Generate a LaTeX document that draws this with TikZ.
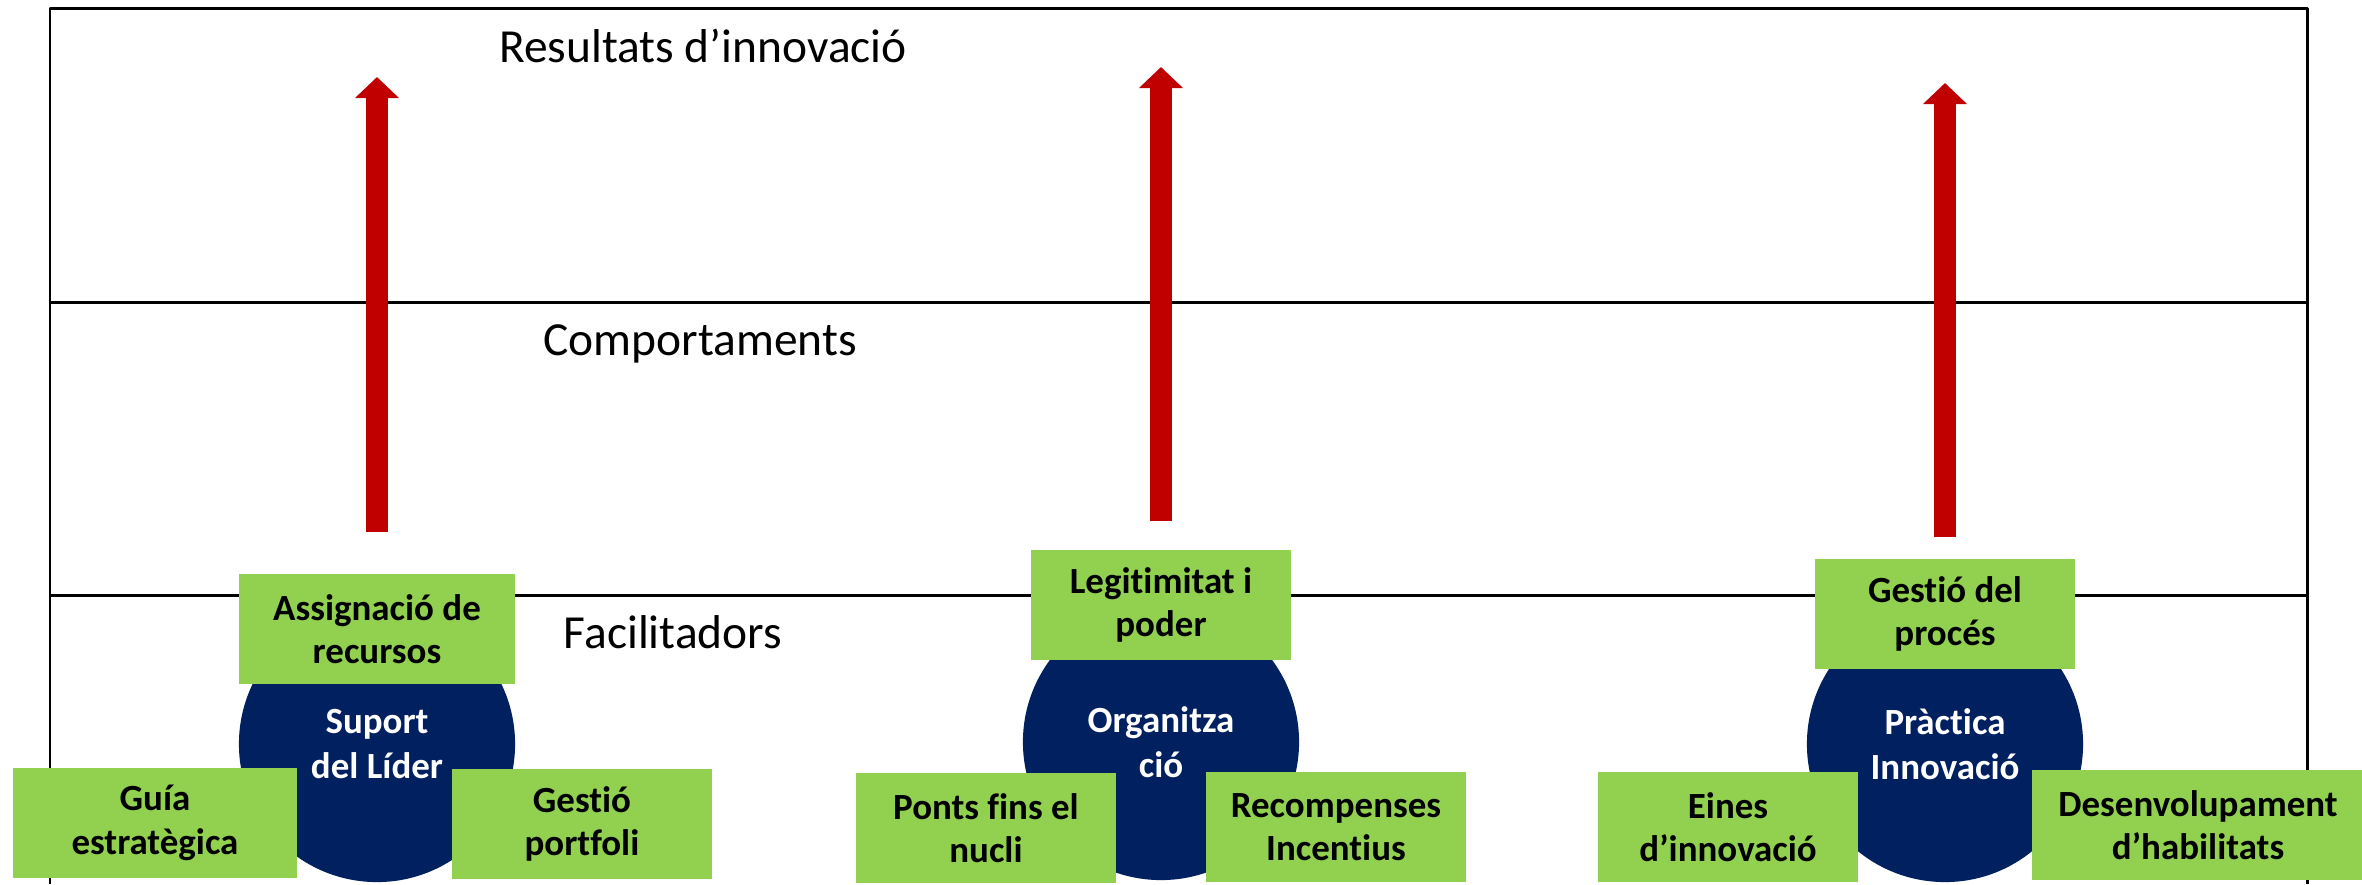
\documentclass[tikz,border=0pt]{standalone}
\usepackage{fontspec}
\setmainfont[Ligatures=NoCommon]{Carlito}
\usetikzlibrary{arrows.meta}
\definecolor{barred}{HTML}{C00000}
\definecolor{leafgreen}{HTML}{92D050}
\definecolor{corenavy}{HTML}{002060}

\begin{document}
\begin{tikzpicture}[x=0.01cm, y=-0.01cm, line join=round,
		frame/.style={line width=0.85pt, black},
		lvl/.style={font=\fontsize{13.5}{16}\selectfont, anchor=base, inner sep=0pt},
		core/.style={circle, fill=corenavy, text=white, minimum size=2.76cm, inner sep=0pt, align=center, font=\bfseries\fontsize{10.5}{12.8}\selectfont},
		pillar/.style={fill=leafgreen, minimum width=2.59cm, minimum height=1.1cm, inner sep=0pt, align=center, font=\bfseries\fontsize{10.5}{12.4}\selectfont},
		uparrow/.style={line width=6pt, barred, -{Triangle[width=12.2pt,length=6pt]}}]
		\useasboundingbox (0,0) rectangle (2362,884);
		% frame and levels
		\draw[frame] (50,884) -- (50,8) -- (2307,8) -- (2307,884);
		\draw[frame] (50,302) -- (2307,302) (50,595) -- (2307,595);
		\node[lvl] (resultats) at (703,62) {Resultats d’innovació};
		\node[lvl] (comport) at (700,355) {Comportaments};
		\node[lvl] (facilit) at (673,648) {Facilitadors};
		% arrows
		\coordinate (liderfoot) at (377,532);
		\coordinate (lidertop) at (377,77);
		\coordinate (organfoot) at (1161,521);
		\coordinate (organtop) at (1161,67);
		\coordinate (practfoot) at (1945,537);
		\coordinate (practtop) at (1945,83);
		\draw[uparrow] (liderfoot) -- (lidertop);
		\draw[uparrow] (organfoot) -- (organtop);
		\draw[uparrow] (practfoot) -- (practtop);
		% cores
		\node[core] (lider) at (377,744) {Suport\\del Líder};
		\node[core] (organ) at (1161,742) {Organitza\\ció};
		\node[core] (pract) at (1945,744) {Pràctica\\Innovació};
		% pillars
		\node[pillar, minimum width=2.76cm] (assig) at (377,629) {Assignació de\\recursos};
		\node[pillar, minimum width=2.83cm] (guia) at (155,823) {Guía\\estratègica};
		\node[pillar] (gestp) at (582,824) {Gestió\\portfoli};
		\node[pillar] (legit) at (1161,605) {Legitimitat i\\poder};
		\node[pillar] (ponts) at (986,828) {Ponts fins el\\nucli};
		\node[pillar] (recomp) at (1336,827) {Recompenses\\Incentius};
		\node[pillar] (gproc) at (1945,614) {Gestió del\\procés};
		\node[pillar] (eines) at (1728,827) {Eines\\d’innovació};
		\node[pillar, minimum width=3.32cm] (desenv) at (2198,825) {Desenvolupament\\d’habilitats};
\end{tikzpicture}
\end{document}
